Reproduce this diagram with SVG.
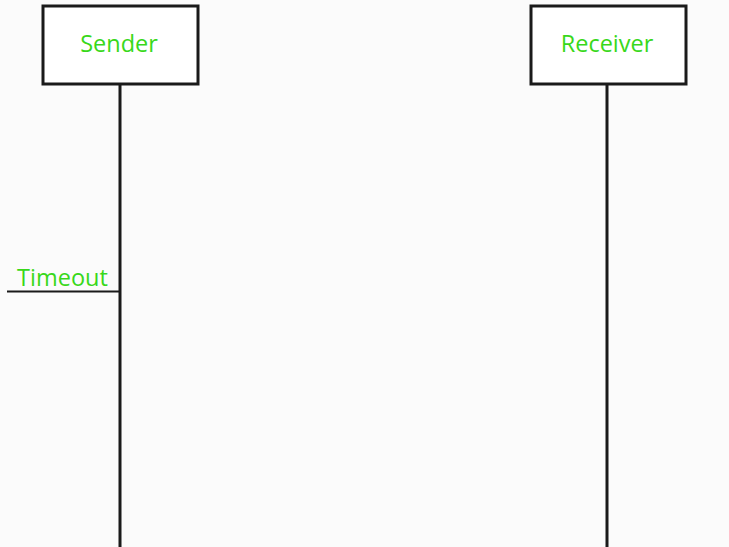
<svg xmlns="http://www.w3.org/2000/svg" width="729" height="547" viewBox="0 0 729 547">
<style>
.box{fill:#ffffff;stroke:#1a1a1a;stroke-width:3}
.line{stroke:#1a1a1a;stroke-width:3;fill:none}
.lbl{font-family:"Open Sans","Noto Sans",sans-serif;font-size:23.5px;fill:#38d81a;text-anchor:middle}
</style>
<rect width="729" height="547" fill="#fbfbfb"/>
<g id="sender">
<rect class="box" x="43" y="6" width="155" height="78"/>
<text class="lbl" x="119" y="52">Sender</text>
</g>
<g id="receiver">
<rect class="box" x="531" y="6" width="155" height="78"/>
<text class="lbl" x="607" y="52">Receiver</text>
</g>
<g id="connectors">
<line class="line" x1="120" y1="84" x2="120" y2="547"/>
<line class="line" x1="607" y1="84" x2="607" y2="547"/>
<line class="line" x1="7" y1="291.5" x2="120" y2="291.5" style="stroke-width:2"/>
</g>
<g id="timeout">
<text class="lbl" x="62.5" y="285.5">Timeout</text>
</g>
</svg>
